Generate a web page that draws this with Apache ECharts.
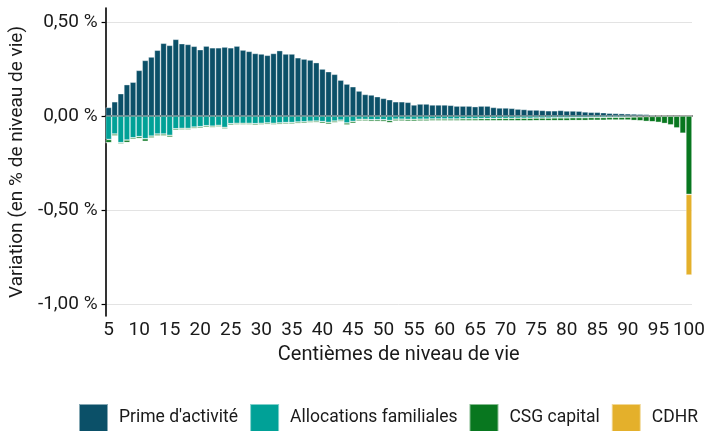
<!DOCTYPE html>
<html>
<head>
<meta charset="utf-8">
<script src="https://cdn.jsdelivr.net/npm/echarts@6/dist/echarts.min.js"></script>
<style>
  html, body { margin: 0; padding: 0; background: #fff; }
  #chart { width: 722px; height: 431px; }
</style>
</head>
<body>
<div id="chart"></div>
<script>
// centiles 5..100
const centiles = [];
for (let c = 5; c <= 100; c++) centiles.push(String(c));

// variation en % de niveau de vie (une ligne = 10 centiles)
const primeActivite = [
  0.046, 0.076, 0.119, 0.167, 0.180, 0.243, 0.296, 0.314, 0.350, 0.387,
  0.376, 0.408, 0.385, 0.381, 0.371, 0.353, 0.372, 0.363, 0.363, 0.367,
  0.363, 0.372, 0.351, 0.344, 0.333, 0.330, 0.323, 0.333, 0.348, 0.330,
  0.330, 0.310, 0.303, 0.298, 0.284, 0.250, 0.236, 0.222, 0.191, 0.170,
  0.156, 0.133, 0.115, 0.112, 0.103, 0.094, 0.087, 0.076, 0.076, 0.073,
  0.059, 0.064, 0.064, 0.059, 0.059, 0.059, 0.057, 0.053, 0.053, 0.053,
  0.050, 0.053, 0.053, 0.046, 0.043, 0.043, 0.041, 0.037, 0.035, 0.032,
  0.032, 0.030, 0.028, 0.028, 0.030, 0.027, 0.027, 0.026, 0.022, 0.020,
  0.020, 0.018, 0.015, 0.014, 0.013, 0.012, 0.011, 0.010, 0.009, 0.006,
  0.003, 0.002, 0.001, 0.001, 0, 0
];
const allocFamiliales = [
  -0.125, -0.096, -0.142, -0.128, -0.116, -0.110, -0.121, -0.107, -0.096, -0.096,
  -0.103, -0.068, -0.066, -0.066, -0.059, -0.057, -0.052, -0.054, -0.050, -0.061,
  -0.041, -0.039, -0.039, -0.039, -0.041, -0.039, -0.037, -0.039, -0.037, -0.035,
  -0.035, -0.032, -0.031, -0.028, -0.027, -0.030, -0.034, -0.027, -0.022, -0.037,
  -0.029, -0.018, -0.018, -0.020, -0.020, -0.020, -0.024, -0.017, -0.017, -0.018,
  -0.018, -0.017, -0.017, -0.016, -0.016, -0.016, -0.016, -0.016, -0.015, -0.015,
  -0.015, -0.014, -0.014, -0.014, -0.013, -0.013, -0.013, -0.012, -0.012, -0.012,
  -0.011, -0.011, -0.011, -0.010, -0.010, -0.010, -0.009, -0.009, -0.009, -0.008,
  -0.008, -0.008, -0.007, -0.007, -0.007, -0.006, -0.005, -0.004, -0.003, -0.002,
  -0.002, -0.001, -0.001, -0.001, 0, 0
];
const csgCapital = [
  -0.017, -0.010, -0.007, -0.013, -0.008, -0.010, -0.014, -0.010, -0.010, -0.010,
  -0.010, -0.008, -0.008, -0.008, -0.008, -0.008, -0.008, -0.008, -0.008, -0.008,
  -0.008, -0.008, -0.008, -0.008, -0.008, -0.008, -0.008, -0.008, -0.008, -0.008,
  -0.008, -0.008, -0.008, -0.008, -0.008, -0.009, -0.010, -0.009, -0.008, -0.011,
  -0.010, -0.009, -0.009, -0.009, -0.009, -0.010, -0.012, -0.010, -0.010, -0.010,
  -0.010, -0.010, -0.010, -0.010, -0.010, -0.010, -0.010, -0.010, -0.011, -0.011,
  -0.011, -0.012, -0.012, -0.012, -0.013, -0.013, -0.013, -0.014, -0.014, -0.014,
  -0.014, -0.014, -0.014, -0.015, -0.015, -0.015, -0.015, -0.015, -0.015, -0.015,
  -0.015, -0.015, -0.015, -0.015, -0.015, -0.016, -0.019, -0.022, -0.026, -0.029,
  -0.032, -0.039, -0.047, -0.063, -0.092, -0.417
];
const cdhr = [
  0, 0, 0, 0, 0, 0, 0, 0, 0, 0,
  0, 0, 0, 0, 0, 0, 0, 0, 0, 0,
  0, 0, 0, 0, 0, 0, 0, 0, 0, 0,
  0, 0, 0, 0, 0, 0, 0, 0, 0, 0,
  0, 0, 0, 0, 0, 0, 0, 0, 0, 0,
  0, 0, 0, 0, 0, 0, 0, 0, 0, 0,
  0, 0, 0, 0, 0, 0, 0, 0, 0, 0,
  0, 0, 0, 0, 0, 0, 0, 0, 0, 0,
  0, 0, 0, 0, 0, 0, 0, 0, 0, 0,
  0, 0, 0, 0, 0, -0.429
];
const yTicks = [-1, -0.5, 0, 0.5];

const FONT = "Roboto, 'Noto Sans', sans-serif";
const INK = "#1a1a1a";

function barSeries(name, data, color) {
  return {
    name: name,
    type: "bar",
    stack: "total",
    data: data,
    barWidth: "100%",
    itemStyle: { color: color, borderColor: "rgba(255,255,255,0.5)", borderWidth: 0.7 },
    emphasis: { disabled: true },
  };
}

const chart = echarts.init(document.getElementById("chart"), null, { renderer: "canvas" });
chart.setOption({
  animation: false,
  textStyle: { fontFamily: FONT },
  grid: { left: 104, right: 30, top: 8, bottom: 115 },
  legend: {
    left: 78, top: 403, padding: 0,
    itemWidth: 29, itemHeight: 28, itemGap: 11,
    icon: "rect",
    textStyle: { fontSize: 17.5, color: INK, fontFamily: FONT, padding: [0, 0, 0, 6] },
    data: ["Prime d'activité", "Allocations familiales", "CSG capital", "CDHR"],
  },
  xAxis: {
    type: "category",
    data: centiles,
    name: "Centièmes de niveau de vie",
    nameLocation: "middle",
    nameGap: 29,
    nameTextStyle: { fontSize: 20, color: INK },
    axisLine: { lineStyle: { color: "#000", width: 1.6 } },
    axisTick: { alignWithLabel: true, length: 5, interval: (i) => i % 5 === 0, lineStyle: { color: "#000", width: 1.2 } },
    axisLabel: { interval: (i) => i % 5 === 0, fontSize: 19, color: INK, margin: 5 },
  },
  yAxis: {
    type: "value",
    min: -1.0638, max: 0.5745,
    name: "Variation (en % de niveau de vie)",
    nameLocation: "middle",
    nameGap: 76,
    nameTextStyle: { fontSize: 19, color: INK },
    axisLine: { show: true, lineStyle: { color: "#000", width: 1.6 } },
    axisTick: { show: true, length: 4, customValues: yTicks, lineStyle: { color: "#000", width: 1.2 } },
    axisLabel: {
      customValues: yTicks, fontSize: 19, color: INK, margin: 8,
      formatter: (v) => v.toFixed(2).replace(".", ",") + " %",
    },
    splitLine: { show: true, lineStyle: { color: "#e3e3e3", width: 1 } },
  },
  series: [
    barSeries("Prime d'activité", primeActivite, "#0b5068"),
    barSeries("Allocations familiales", allocFamiliales, "#00a197"),
    barSeries("CSG capital", csgCapital, "#08771f"),
    barSeries("CDHR", cdhr, "#e4b02b"),
  ],
});
</script>
</body>
</html>
